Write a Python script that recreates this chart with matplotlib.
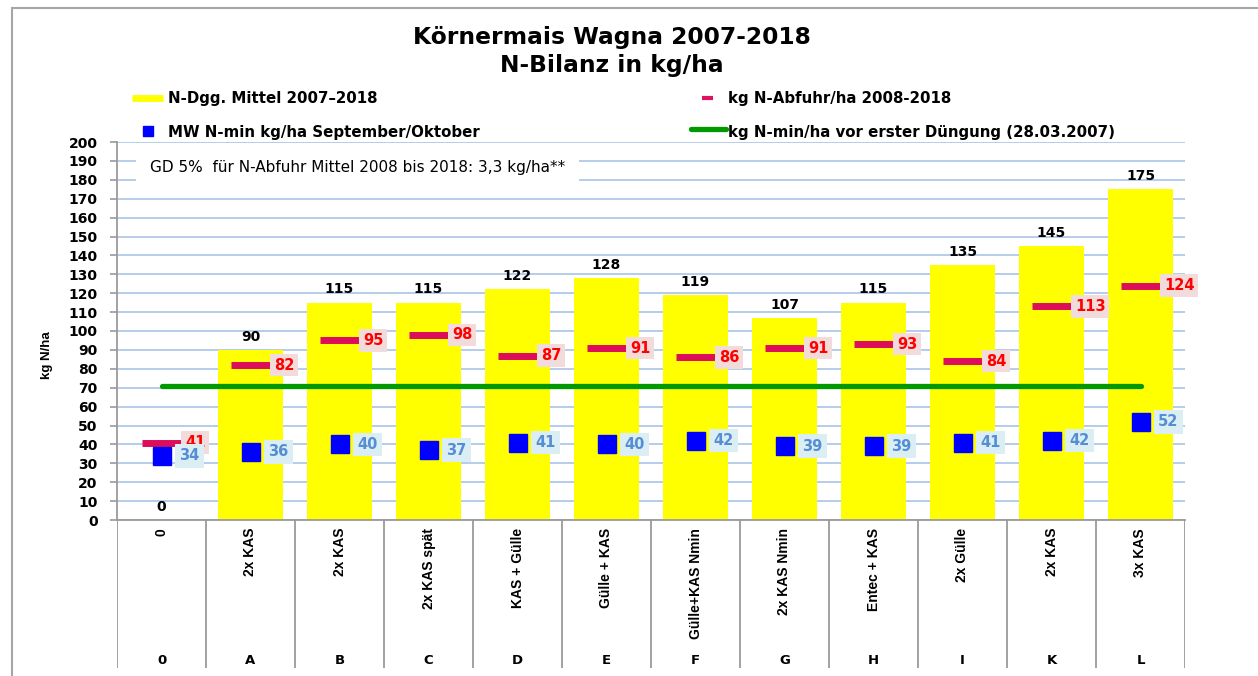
import numpy as np
import matplotlib.pyplot as plt
from matplotlib.lines import Line2D
from matplotlib.patches import Rectangle

# breite Schrift für waagrechten Text, schmale für gedrehten
WIDE = ['DejaVu Sans']
NARROW = ['Liberation Sans', 'DejaVu Sans']
plt.rcParams['font.family'] = WIDE

# Daten
varianten = ['0', 'A', 'B', 'C', 'D', 'E', 'F', 'G', 'H', 'I', 'K', 'L']
beschreibung = ['0', '2x KAS', '2x KAS', '2x KAS spät', 'KAS + Gülle', 'Gülle + KAS',
                'Gülle+KAS Nmin', '2x KAS Nmin', 'Entec + KAS', '2x Gülle', '2x KAS', '3x KAS']
n_dgg = [0, 90, 115, 115, 122, 128, 119, 107, 115, 135, 145, 175]
n_abfuhr = [41, 82, 95, 98, 87, 91, 86, 91, 93, 84, 113, 124]
n_min_herbst = [34, 36, 40, 37, 41, 40, 42, 39, 39, 41, 42, 52]
n_min_start = 71

W, H = 1258, 676
fig = plt.figure(figsize=(W / 100, H / 100), dpi=100)

def fx(px):
    return px / W

def fy(py):
    return 1 - py / H

# Rahmen
fig.add_artist(Rectangle((fx(12), fy(H + 20)), fx(1400), (H + 12) / H, transform=fig.transFigure,
                         fill=False, edgecolor='#a6a6a6', linewidth=1.5))

ax = fig.add_axes([fx(117), fy(520), fx(1185 - 117), (520 - 142) / H])
x = np.arange(len(varianten))

ax.bar(x, n_dgg, width=0.72, color='#ffff00', zorder=2)
ax.hlines(n_abfuhr, x - 0.215, x + 0.215, color='#dc0d5a', linewidth=5, zorder=4)
ax.plot(x, n_min_herbst, 's', color='#0000ff', markersize=12.5, zorder=4)
ax.plot([x[0], x[-1]], [n_min_start, n_min_start], color='#009900', linewidth=3.8,
        solid_capstyle='round', zorder=3)

for i in range(len(x)):
    ax.annotate(str(n_dgg[i]), (x[i], n_dgg[i]), xytext=(0, 4.5), textcoords='offset points',
                ha='center', va='bottom', fontsize=10, fontweight='bold', zorder=5)
    ax.text(x[i] + 0.265, n_abfuhr[i], str(n_abfuhr[i]), ha='left', va='center', color='#ff0000',
            fontsize=10.5, fontweight='bold', zorder=6,
            bbox=dict(boxstyle='square,pad=0.25', facecolor='#f2dcdb', edgecolor='none'))
    ax.text(x[i] + 0.2, n_min_herbst[i], str(n_min_herbst[i]), ha='left', va='center',
            color='#558ed5', fontsize=10.5, fontweight='bold', zorder=6,
            bbox=dict(boxstyle='square,pad=0.3', facecolor='#dbeef4', edgecolor='none'))

ax.text(0.031, 0.933, 'GD 5%  für N-Abfuhr Mittel 2008 bis 2018: 3,3 kg/ha**', transform=ax.transAxes,
        ha='left', va='center', fontsize=11, zorder=6,
        bbox=dict(boxstyle='square,pad=0.9', facecolor='white', edgecolor='none'))

ax.set_xlim(-0.5, len(x) - 0.5)
ax.set_ylim(0, 200)
ax.set_yticks(np.arange(0, 201, 10))
ax.set_xticks([])
ax.grid(axis='y', color='#b0c8ea', linewidth=1.3, zorder=0)
ax.set_axisbelow(True)
for s in ['top', 'right']:
    ax.spines[s].set_visible(False)
for s in ['left', 'bottom']:
    ax.spines[s].set_color('#9a9a9a')
    ax.spines[s].set_linewidth(1.3)
ax.tick_params(axis='y', length=5, width=1.2, color='#9a9a9a', labelsize=10, pad=9)
for lab in ax.get_yticklabels():
    lab.set_fontweight('bold')
fig.text(fx(47), fy(355), 'kg N/ha', rotation=90, ha='center', va='center',
         fontsize=9.5, fontweight='bold', family=NARROW)

# Tabelle unter der Achse
tx = fig.add_axes([fx(117), fy(668), fx(1185 - 117), (668 - 520) / H])
tx.set_xlim(-0.5, len(x) - 0.5)
tx.set_ylim(0, 1)
tx.axis('off')
tx.vlines(np.arange(len(x) + 1) - 0.5, 0, 1, color='#9a9a9a', linewidth=1.3)
for i in range(len(x)):
    tx.text(x[i], 1 - 8 / 148, beschreibung[i], rotation=90, ha='center', va='top',
            fontsize=10, fontweight='bold', family=NARROW)
    tx.text(x[i], 8 / 148, varianten[i], ha='center', va='center', fontsize=9.5, fontweight='bold')

# Titel
fig.text(fx(612), fy(44), 'Körnermais Wagna 2007-2018', ha='center', va='baseline',
         fontsize=16.8, fontweight='bold')
fig.text(fx(612), fy(72), 'N-Bilanz in kg/ha', ha='center', va='baseline',
         fontsize=16.8, fontweight='bold')

# Legende
fig.add_artist(Line2D([fx(132), fx(163)], [fy(98), fy(98)], color='#ffff00', linewidth=5,
                      solid_capstyle='butt', transform=fig.transFigure))
fig.text(fx(168), fy(103), 'N-Dgg. Mittel 2007–2018', ha='left', va='baseline', fontsize=10.8,
         fontweight='bold')
fig.add_artist(Line2D([fx(702), fx(713)], [fy(98), fy(98)], color='#e0115f', linewidth=3,
                      solid_capstyle='butt', transform=fig.transFigure))
fig.text(fx(728), fy(103), 'kg N-Abfuhr/ha 2008-2018', ha='left', va='baseline', fontsize=10.8,
         fontweight='bold')
fig.add_artist(Line2D([fx(148)], [fy(131)], marker='s', color='#0000ff', markersize=7.5, linestyle='none',
                      transform=fig.transFigure))
fig.text(fx(168), fy(137), 'MW N-min kg/ha September/Oktober', ha='left', va='baseline', fontsize=10.8,
         fontweight='bold')
fig.add_artist(Line2D([fx(691), fx(726)], [fy(129), fy(129)], color='#009900', linewidth=3.8,
                      solid_capstyle='round', transform=fig.transFigure))
fig.text(fx(728), fy(137), 'kg N-min/ha vor erster Düngung (28.03.2007)', ha='left', va='baseline',
         fontsize=10.8, fontweight='bold')

fig.savefig('out.png', dpi=100)
